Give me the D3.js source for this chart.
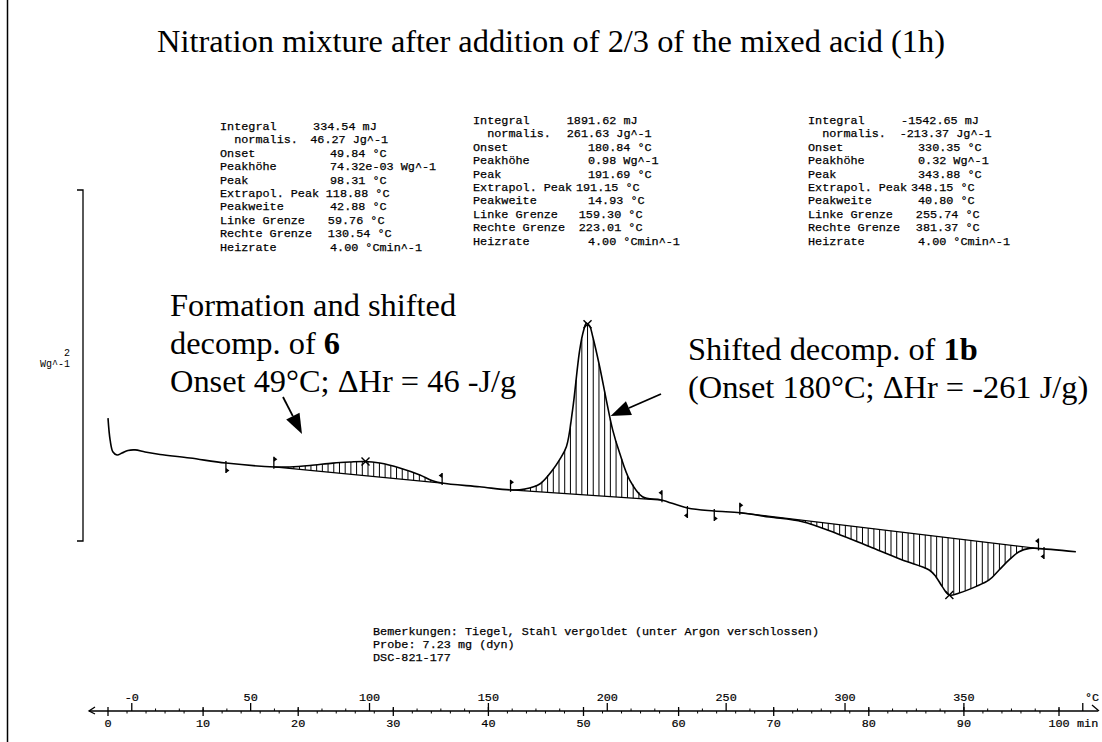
<!DOCTYPE html>
<html><head><meta charset="utf-8">
<script src="https://cdn.jsdelivr.net/npm/d3@7"></script>
<style>body{margin:0;background:#fff}</style>
</head><body>
<svg id="c" width="1102" height="742"></svg>
<script>
// ---------- DATA ----------
const curveT = [-10, -9.1, -7.9, -6.2, -4.1, -1.6, 1.4, 5.6, 11.9, 24.5, 39.6, 60.2, 66.5, 74.9, 84.6, 91.7, 98.0, 104.3, 112.7, 121.2, 126.2, 130.4, 146.3, 159.7, 165.3, 171.6, 177.0, 179.9, 182.8, 185.4, 188.4, 190.1, 191.2, 192.6, 193.9, 196.8, 199.6, 202.3, 205.2, 209.4, 214.8, 222.7, 233.7, 245.0, 255.9, 268.2, 282.1, 296.2, 310.2, 324.1, 335.4, 338.2, 340.9, 343.8, 348.0, 355.0, 360.6, 364.8, 369.0, 373.2, 377.5, 380.8, 397.1];
const curveHF = [0.700, 0.575, 0.507, 0.490, 0.501, 0.516, 0.519, 0.507, 0.493, 0.473, 0.444, 0.422, 0.422, 0.430, 0.444, 0.450, 0.453, 0.444, 0.416, 0.376, 0.345, 0.330, 0.309, 0.291, 0.296, 0.325, 0.405, 0.462, 0.537, 0.746, 1.088, 1.202, 1.240, 1.225, 1.164, 0.993, 0.803, 0.632, 0.501, 0.348, 0.252, 0.234, 0.188, 0.171, 0.161, 0.137, 0.110, 0.044, -0.032, -0.108, -0.165, -0.203, -0.260, -0.308, -0.296, -0.260, -0.222, -0.165, -0.108, -0.061, -0.042, -0.042, -0.061];

const peakLeft  = [59.76, 159.30, 255.74];
const peakRight = [130.54, 223.01, 381.37];
const peakT     = [98.31, 191.69, 343.88];

const flagT    = [39.6, 59.76, 130.54, 159.30, 223.01, 233.7, 245.0, 255.74, 381.37, 383.7];
const flagDir  = ["down","up","up","up","up","down","down","up","up","down"];
const flagSide = ["r","r","l","r","l","l","r","r","l","l"];

const minTicks  = [0,10,20,30,40,50,60,70,80,90,100];
const minLabels = ["0","10","20","30","40","50","60","70","80","90","100"];
const tempTicks  = [0,50,100,150,200,250,300,350,400];
const tempLabels = ["-0","50","100","150","200","250","300","350",""];

const rowLabels = ["Integral","  normalis.","Onset","Peakhöhe","Peak","Extrapol. Peak","Peakweite","Linke Grenze","Rechte Grenze","Heizrate"];
const block1Values = ["334.54 mJ","46.27 Jg^-1","49.84 °C","74.32e-03 Wg^-1","98.31 °C","118.88 °C","42.88 °C","59.76 °C","130.54 °C","4.00 °Cmin^-1"];
const block2Values = ["1891.62 mJ","261.63 Jg^-1","180.84 °C","0.98 Wg^-1","191.69 °C","191.15 °C","14.93 °C","159.30 °C","223.01 °C","4.00 °Cmin^-1"];
const block3Values = ["-1542.65 mJ","-213.37 Jg^-1","330.35 °C","0.32 Wg^-1","343.88 °C","348.15 °C","40.80 °C","255.74 °C","381.37 °C","4.00 °Cmin^-1"];

const remarks = ["Bemerkungen: Tiegel, Stahl vergoldet (unter Argon verschlossen)","Probe: 7.23 mg (dyn)","DSC-821-177"];

const titleText = "Nitration mixture after addition of 2/3 of the mixed acid (1h)";

// ---------- LAYOUT ----------
const svg = d3.select("#c");
const W = 1102, H = 742;
const xMin = d3.scaleLinear().domain([0, 100]).range([108, 1059]);
const xT = d3.scaleLinear().domain([-10, 390]).range([108, 1059]);
const y = d3.scaleLinear().domain([0, 2]).range([541, 190]);
const mono = "'Liberation Mono', 'DejaVu Sans Mono', monospace";
const serif = "'Liberation Serif', 'Times New Roman', serif";
const CW = 7.05; // char width

svg.append("rect").attr("width",W).attr("height",H).attr("fill","#fff");
// frame
svg.append("line").attr("x1",7.5).attr("x2",7.5).attr("y1",0).attr("y2",H).attr("stroke","#000").attr("stroke-width",1.5);

// title
svg.append("text").attr("x",551).attr("y",52).attr("text-anchor","middle")
  .attr("font-family",serif).attr("font-size",32.4).text(titleText);

// parameter blocks
function block(x0, y0, vals, cols){
  const g = svg.append("g").attr("font-family",mono).attr("font-size",11.8).attr("fill","#000")
    .attr("stroke","#000").attr("stroke-width",0.25);
  rowLabels.forEach((lab,i)=>{
    g.append("text").attr("x",x0).attr("y",y0+i*13.4).style("white-space","pre").text(lab);
    g.append("text").attr("x",x0+cols[i]*CW).attr("y",y0+i*13.4).style("white-space","pre").text(vals[i]);
  });
}
block(220, 130, block1Values, [13.2, 12.8, 15.6, 15.6, 15.6, 15, 15.6, 15.3, 15.3, 15.6]);
block(473, 124, block2Values, [13.3,13.3,16.3,16.3,16.3,14.6,16.3,15,15,16.3]);
block(808, 124, block3Values, [13.2,13,15.6,15.6,15.6,14.6,15.6,15.3,15.3,15.6]);

// scale bracket
const sb = svg.append("g").attr("stroke","#000").attr("stroke-width",1.3).attr("fill","none");
sb.append("path").attr("d",`M77,${y(2)}H83V${y(0)}H77`);
svg.append("text").attr("x",70).attr("y",356).attr("text-anchor","end").attr("font-family",mono).attr("font-size",10).text("2");
svg.append("text").attr("x",70).attr("y",367).attr("text-anchor","end").attr("font-family",mono).attr("font-size",10).text("Wg^-1");

// curve
const pts = curveT.map((t,i)=>[t, curveHF[i]]);
function interp(t){
  for(let i=1;i<curveT.length;i++){
    if(t<=curveT[i]){ const f=(t-curveT[i-1])/(curveT[i]-curveT[i-1]); return curveHF[i-1]+f*(curveHF[i]-curveHF[i-1]); }
  }
  return curveHF[curveHF.length-1];
}
// hatching
const hatch = svg.append("g").attr("stroke","#000").attr("stroke-width",1);
peakLeft.forEach((L,k)=>{
  const R = peakRight[k];
  const bL = interp(L), bR = interp(R);
  const step = 2.4;
  d3.range(L+step*0.5, R, step).forEach(t=>{
    const b = bL + (t-L)/(R-L)*(bR-bL);
    hatch.append("line").attr("x1",xT(t)).attr("x2",xT(t)).attr("y1",y(b)).attr("y2",y(interp(t)));
  });
  svg.append("line").attr("x1",xT(L)).attr("x2",xT(R)).attr("y1",y(bL)).attr("y2",y(bR))
    .attr("stroke","#000").attr("stroke-width",1.2);
});
const line = d3.line().x(d=>xT(d[0])).y(d=>y(d[1])).curve(d3.curveCatmullRom.alpha(0.5));
svg.append("path").attr("d",line(pts)).attr("fill","none").attr("stroke","#000").attr("stroke-width",1.6);

// peak crosses
peakT.forEach(t=>{
  const cx=xT(t), cy=y(interp(t));
  svg.append("path").attr("d",`M${cx-4},${cy-4}L${cx+4},${cy+4}M${cx-4},${cy+4}L${cx+4},${cy-4}`)
    .attr("stroke","#000").attr("stroke-width",1.4);
});
// flags
flagT.forEach((t,i)=>{
  const fx=xT(t), fy=y(interp(t));
  const dy = flagDir[i]==="up" ? -10 : 10;
  const s = flagSide[i]==="r" ? 1 : -1;
  const tipY = fy+dy;
  svg.append("line").attr("x1",fx).attr("x2",fx).attr("y1",fy+(dy>0?-2:2)).attr("y2",tipY).attr("stroke","#000").attr("stroke-width",1.3);
  const fy0 = dy<0 ? tipY : tipY-5;
  svg.append("path").attr("d",`M${fx},${fy0}L${fx+3.5*s},${fy0+2.5}L${fx},${fy0+5}Z`).attr("fill","#000");
});

// annotations
function rich(x, yy, parts){
  const t = svg.append("text").attr("x",x).attr("y",yy).attr("font-family",serif).attr("font-size",32.4);
  parts.forEach(p=>t.append("tspan").attr("font-weight",p[1]?"bold":"normal").text(p[0]));
}
rich(170, 316, [["Formation and shifted"]]);
rich(170, 354, [["decomp. of "],["6",true]]);
rich(170, 392, [["Onset 49°C; ΔHr = 46 -J/g"]]);
rich(688, 360, [["Shifted decomp. of "],["1b",true]]);
rich(688, 398, [["(Onset 180°C; ΔHr = -261 J/g)"]]);

function arrow(x1,y1,x2,y2){
  const ang=Math.atan2(y2-y1,x2-x1), L=20, Wd=7.5;
  const bx=x2-L*Math.cos(ang), by=y2-L*Math.sin(ang);
  svg.append("line").attr("x1",x1).attr("y1",y1).attr("x2",bx).attr("y2",by).attr("stroke","#000").attr("stroke-width",1.8);
  const px=-Math.sin(ang)*Wd, py=Math.cos(ang)*Wd;
  svg.append("path").attr("d",`M${x2},${y2}L${bx+px},${by+py}L${bx-px},${by-py}Z`).attr("fill","#000");
}
arrow(283, 397, xT(71.6), y(0.61));
arrow(661, 394, xT(201.4), y(0.712));

// remarks
remarks.forEach((r,i)=>{
  svg.append("text").attr("x",373).attr("y",635+i*13).attr("font-family",mono).attr("font-size",11.8)
    .attr("stroke","#000").attr("stroke-width",0.25).style("white-space","pre").text(r);
});

// axis
const ay = 711;
const ax = svg.append("g").attr("stroke","#000").attr("stroke-width",1.3);
ax.append("line").attr("x1",89).attr("x2",1098).attr("y1",ay).attr("y2",ay);
ax.append("path").attr("d",`M95,${ay-4}L89,${ay}L95,${ay+3}`).attr("fill","none");
ax.append("path").attr("d",`M1092,${ay-6}L1099,${ay}`).attr("fill","none");
minTicks.forEach(m=>ax.append("line").attr("x1",xMin(m)).attr("x2",xMin(m)).attr("y1",ay-4).attr("y2",ay+5));
d3.range(2,101,2).filter(m=>m%10!==0).forEach(m=>ax.append("line").attr("x1",xMin(m)).attr("x2",xMin(m)).attr("y1",ay).attr("y2",ay+2.5).attr("stroke-width",1));
tempTicks.forEach(t=>ax.append("line").attr("x1",xT(t)).attr("x2",xT(t)).attr("y1",ay).attr("y2",ay-8));
d3.range(10,400,10).filter(t=>t%50!==0).forEach(t=>ax.append("line").attr("x1",xT(t)).attr("x2",xT(t)).attr("y1",ay).attr("y2",ay-2.5).attr("stroke-width",1));
const lab = svg.append("g").attr("font-family",mono).attr("font-size",11.8).attr("text-anchor","middle")
  .attr("stroke","#000").attr("stroke-width",0.2);
minTicks.forEach((m,i)=>lab.append("text").attr("x",xMin(m)).attr("y",727).text(minLabels[i]));
tempTicks.forEach((t,i)=>lab.append("text").attr("x",xT(t)).attr("y",701).text(tempLabels[i]));
lab.append("text").attr("x",1077).attr("y",727).attr("text-anchor","start").text("min");
lab.append("text").attr("x",1092).attr("y",701).text("°C");
</script>
</body></html>
